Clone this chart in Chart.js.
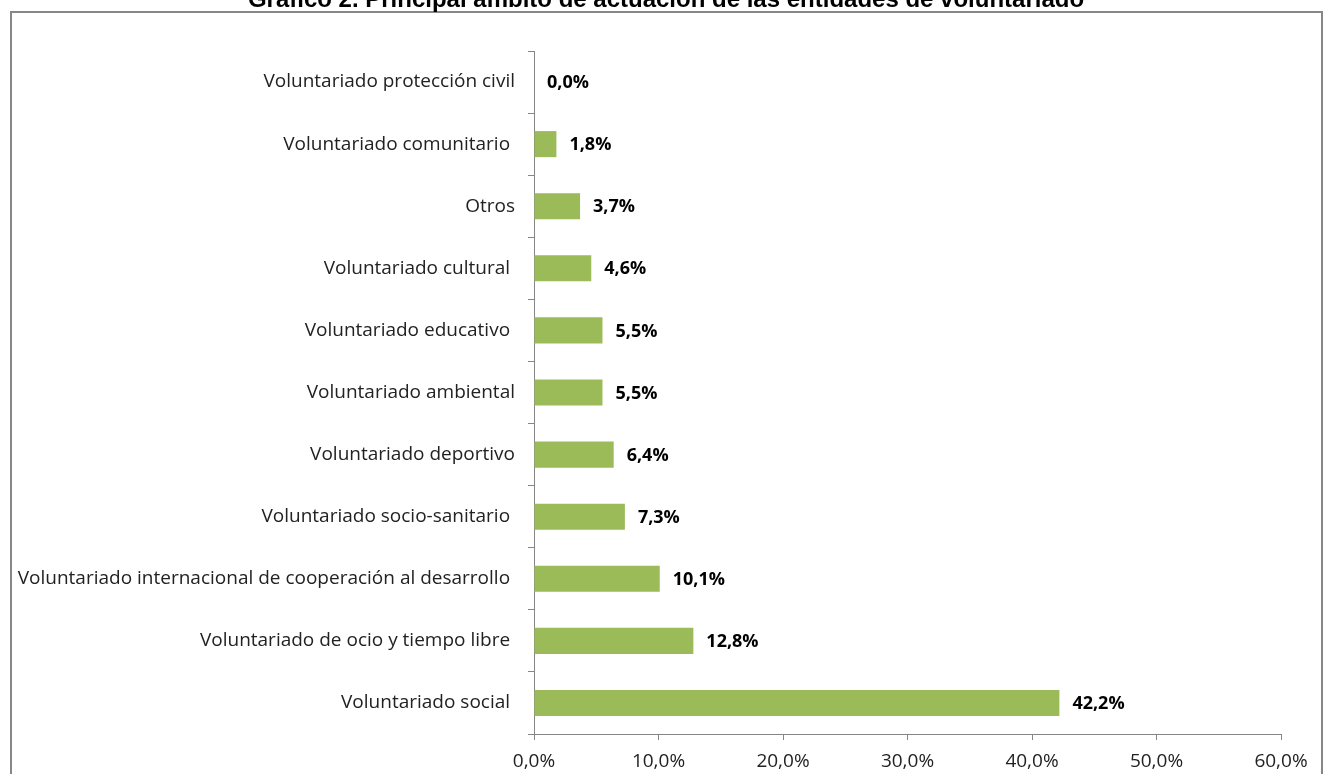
<!DOCTYPE html>
<html>
<head>
<meta charset="utf-8">
<script src="https://cdn.jsdelivr.net/npm/chart.js@4"></script>
<style>
  body { margin: 0; background: #fff; }
  #wrap { width: 1324px; height: 774px; position: relative; }
</style>
</head>
<body>
<div id="wrap"><canvas id="grafico"></canvas></div>
<script>
// datos del grafico (de arriba a abajo)
var ambitos = [
  'Voluntariado protección civil',
  'Voluntariado comunitario ',
  'Otros',
  'Voluntariado cultural ',
  'Voluntariado educativo ',
  'Voluntariado ambiental',
  'Voluntariado deportivo',
  'Voluntariado socio-sanitario ',
  'Voluntariado internacional de cooperación al desarrollo ',
  'Voluntariado de ocio y tiempo libre ',
  'Voluntariado social '
];
var porcentajes = [0.0, 1.8, 3.7, 4.6, 5.5, 5.5, 6.4, 7.3, 10.1, 12.8, 42.2];
var ticksX = [0, 10, 20, 30, 40, 50, 60];

var titulo = 'Gráfico 2. Principal ámbito de actuación de las entidades de voluntariado';
var fuente = '"Open Sans", Lato, sans-serif';

function fmt(v){
  return v.toFixed(1).replace('.', ',') + '%';
}

// marco gris y titulo (cortado arriba, como en el original)
var marco = {
  id: 'marco',
  beforeDraw: function(chart){
    var ctx = chart.ctx;
    ctx.save();
    ctx.strokeStyle = '#878787';
    ctx.lineWidth = 2;
    ctx.strokeRect(11, 12, chart.width - 13, chart.height + 20);
    ctx.font = 'bold 24px "Liberation Sans", Arial, sans-serif';
    ctx.fillStyle = '#000';
    ctx.textAlign = 'center';
    ctx.textBaseline = 'alphabetic';
    ctx.fillText(titulo, 666, 7);
    ctx.restore();
  }
};

// etiquetas de valor a la derecha de cada barra
var etiquetas = {
  id: 'etiquetas',
  afterDatasetsDraw: function(chart){
    var ctx = chart.ctx;
    var meta = chart.getDatasetMeta(0);
    ctx.save();
    ctx.font = 'bold 18px ' + fuente;
    ctx.fillStyle = '#000';
    ctx.textAlign = 'left';
    ctx.textBaseline = 'middle';
    meta.data.forEach(function(bar, i){
      ctx.fillText(fmt(porcentajes[i]), bar.x + 13, bar.y + 1);
    });
    ctx.restore();
  }
};

var ctx = document.getElementById('grafico');
var grafico = new Chart(ctx, {
  type: 'bar',
  data: {
    labels: ambitos,
    datasets: [{
      data: porcentajes,
      backgroundColor: '#9BBB59',
      borderWidth: 0,
      barPercentage: 0.42,
      categoryPercentage: 1
    }]
  },
  options: {
    indexAxis: 'y',
    responsive: true,
    maintainAspectRatio: false,
    animation: false,
    layout: { padding: { top: 51, right: 43, bottom: 0, left: 0 } },
    plugins: {
      legend: { display: false },
      tooltip: { enabled: false },
      title: { display: false }
    },
    scales: {
      x: {
        min: 0,
        max: 60,
        afterBuildTicks: function(scale){
          scale.ticks = ticksX.map(function(v){ return { value: v }; });
        },
        afterFit: function(scale){ scale.height = 40; },
        grid: { drawOnChartArea: false, drawTicks: true, tickLength: 6, color: '#868686' },
        border: { display: true, color: '#868686', width: 1 },
        ticks: {
          color: '#222',
          font: { family: fuente, size: 19 },
          padding: 10,
          maxRotation: 0,
          callback: function(v){ return fmt(v); }
        }
      },
      y: {
        afterFit: function(scale){ scale.width = 534; },
        grid: { drawOnChartArea: false, drawTicks: true, tickLength: 6, color: '#868686', offset: true },
        border: { display: true, color: '#868686', width: 1 },
        ticks: {
          color: '#222',
          font: { family: fuente, size: 19 },
          padding: 13,
          autoSkip: false
        }
      }
    }
  },
  plugins: [marco, etiquetas]
});
</script>
</body>
</html>
